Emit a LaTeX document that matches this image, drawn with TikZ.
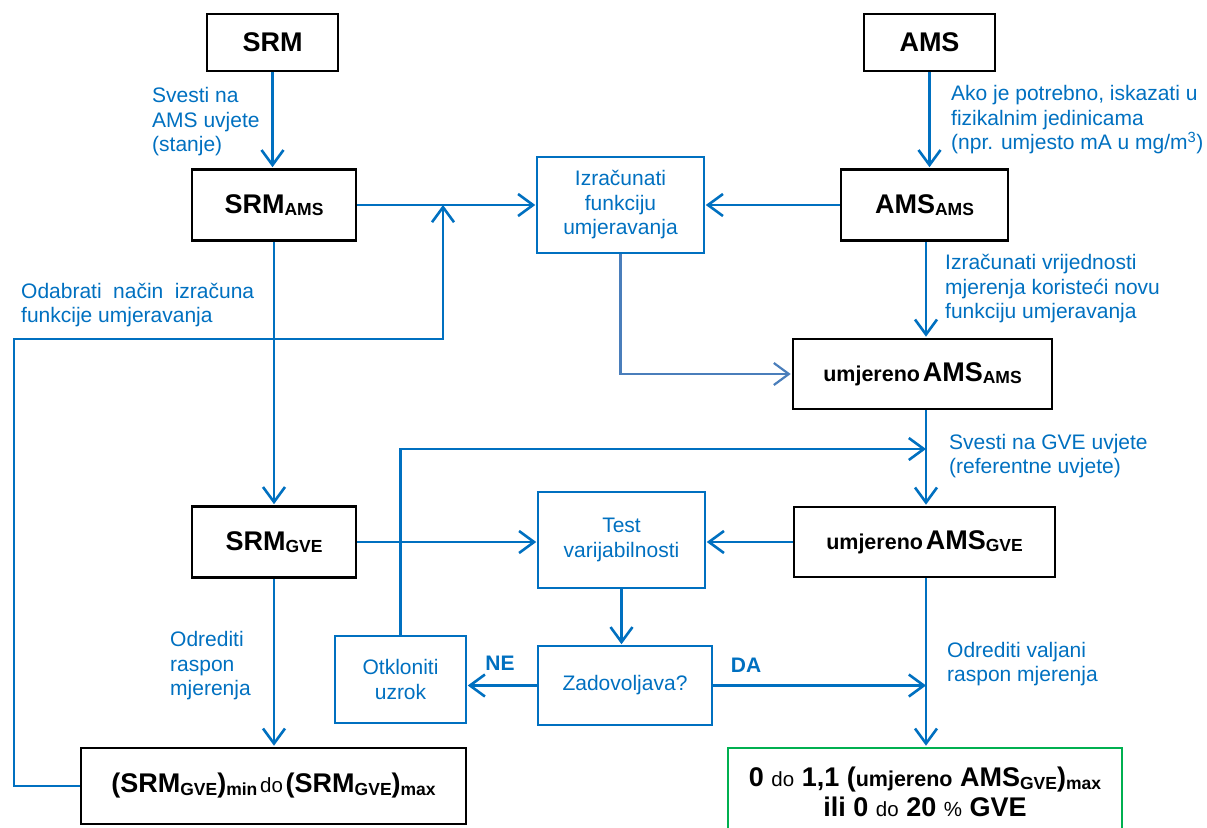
\documentclass[tikz,border=0pt]{standalone}
\usepackage{fontspec}
\setmainfont{Liberation Sans}
\usetikzlibrary{arrows.meta}
\definecolor{cblue}{HTML}{0070C0}
\definecolor{sblue}{HTML}{4A7EBB}
\definecolor{cgreen}{HTML}{00B050}
\newcommand\sbx[1]{\raisebox{-2.5pt}{\fontsize{17.5}{17.5}\selectfont\bfseries #1}}
\newcommand\mainb[1]{{\fontsize{27}{30}\selectfont\bfseries #1}}
\newcommand\umj{{\fontsize{21.5}{25}\selectfont\bfseries umjereno}}
\newcommand\dotext{{\fontsize{20.5}{24}\selectfont\mdseries do}}
\begin{document}
\begin{tikzpicture}[x=1pt,y=-1pt,
  lbl/.style={text=cblue,font=\fontsize{21}{24.5}\selectfont,align=left,anchor=west,inner sep=0pt},
  blk/.style={draw=black,line width=2.6pt,inner sep=0pt,align=center},
  bbx/.style={draw=cblue,line width=1.5pt,inner sep=0pt,align=center,text=cblue,font=\fontsize{21}{24.5}\selectfont},
  arr/.style={draw=cblue,line width=2.6pt,-{Straight Barb[length=15pt,width=22pt]},shorten >=1pt},
  sarr/.style={arr,draw=sblue,line width=2.2pt},
  yn/.style={text=cblue,font=\fontsize{21}{24}\selectfont\bfseries,inner sep=0pt}]
\useasboundingbox (0,0) rectangle (1207,827);
\clip (0,0) rectangle (1207,827);
% boxes
\node[blk,minimum width=131,minimum height=57] (srm) at (272.5,42.5) {\mainb{SRM}};
\node[blk,minimum width=131,minimum height=57] (ams) at (929.5,42.5) {\mainb{AMS}};
\node[blk,minimum width=164,minimum height=71] (srmams) at (274,205) {\mainb{SRM\sbx{AMS}}};
\node[bbx,minimum width=167,minimum height=96] (izr) at (620.5,205) {Izračunati\\funkciju\\umjeravanja};
\node[blk,minimum width=167,minimum height=71] (amsams) at (924.5,205) {\mainb{AMS\sbx{AMS}}};
\node[blk,minimum width=259,minimum height=70] (uams) at (922.5,374) {\umj{} \mainb{AMS\sbx{AMS}}};
\node[blk,minimum width=164,minimum height=71] (srmgve) at (274,542) {\mainb{SRM\sbx{GVE}}};
\node[bbx,minimum width=167,minimum height=96] (test) at (621.5,540) {Test\\varijabilnosti};
\node[blk,minimum width=261,minimum height=70] (ugve) at (924.5,542) {\umj{} \mainb{AMS\sbx{GVE}}};
\node[bbx,minimum width=131,minimum height=87] (otk) at (400.5,679.5) {Otkloniti\\uzrok};
\node[bbx,minimum width=174,minimum height=79] (zad) at (625,685.5) {Zadovoljava?};
\node[blk,minimum width=385,minimum height=76] (minmax) at (273.5,786) {\mainb{(SRM\sbx{GVE})\sbx{min}} \dotext{} \mainb{(SRM\sbx{GVE})\sbx{max}}};
\node[draw=cgreen,line width=2.6pt,minimum width=394,minimum height=110,inner sep=0pt] (res) at (925,803) {};
\node[align=center,inner sep=0pt,font=\fontsize{27}{30}\selectfont] (restext) at (925,792)
  {\mainb{0} \dotext{} \mainb{1,1 (}\umj{} \mainb{AMS\sbx{GVE})\sbx{max}}\\
   \mainb{ili 0} \dotext{} \mainb{20} {\fontsize{20.5}{24}\selectfont\%} \mainb{GVE}};
% helper coordinates
\coordinate (vx) at (926,0);
\coordinate (lc1) at (14,339);
\coordinate (lp) at (443,339);
\coordinate (gvein) at (926,449);
% connectors
\draw[arr] (srm.south) -- (srm.south |- srmams.north);
\draw[arr] (ams.south) -- (ams.south |- amsams.north);
\draw[arr] (srmams.east) -- (srmams.east -| izr.west);
\draw[arr] (amsams.west) -- (amsams.west -| izr.east);
\draw[arr,shorten >=0pt] (minmax.west) -| (lc1) -| (lp |- srmams.east);
\draw[arr] (srmams.south) -- (srmams.south |- srmgve.north);
\draw[sarr] (izr.south) |- (uams.west);
\draw[arr] (amsams.south -| vx) -- (uams.north -| vx);
\draw[arr] (uams.south -| vx) -- (ugve.north -| vx);
\draw[arr,shorten >=0pt] (otk.north) |- (gvein);
\draw[arr] (srmgve.east) -- (srmgve.east -| test.west);
\draw[arr] (ugve.west) -- (ugve.west -| test.east);
\draw[arr] (test.south) -- (test.south |- zad.north);
\draw[arr] (zad.west) -- (zad.west -| otk.east);
\draw[arr,shorten >=0pt] (zad.east) -- (zad.east -| vx);
\draw[arr] (ugve.south -| vx) -- (res.north -| vx);
\draw[arr] (srmgve.south) -- (srmgve.south |- minmax.north);
% labels
\node[lbl] (l1) at (152,122) {Svesti na\\AMS uvjete\\(stanje)};
\node[lbl] (l2) at (951,120) {Ako je potrebno, iskazati u\\fizikalnim jedinicama\\(npr. umjesto mA u mg/m\textsuperscript{3})};
\node[lbl] (l3) at (21,305) {\makebox[233pt][s]{Odabrati način izračuna}\\funkcije umjeravanja};
\node[lbl] (l4) at (945,289) {Izračunati vrijednosti\\mjerenja koristeći novu\\funkciju umjeravanja};
\node[lbl] (l5) at (949,456) {Svesti na GVE uvjete\\(referentne uvjete)};
\node[lbl] (l6) at (170,666) {Odrediti\\raspon\\mjerenja};
\node[lbl] (l7) at (947,664) {Odrediti valjani\\raspon mjerenja};
\node[yn] (ne) at (500,663) {NE};
\node[yn] (da) at (746,665) {DA};
\end{tikzpicture}
\end{document}
